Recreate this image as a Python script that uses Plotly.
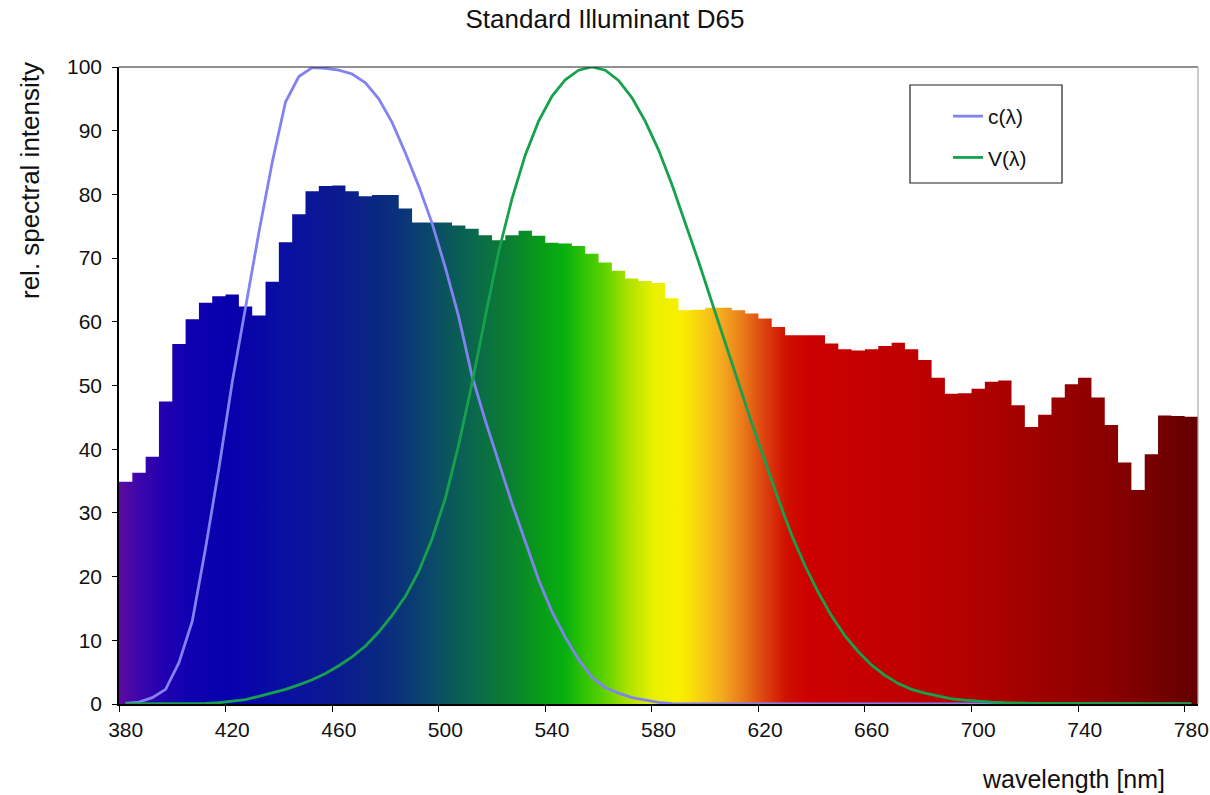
import plotly.graph_objects as go

# ---------------- data ----------------
wavelength = list(range(380, 785, 5))  # 81 categories, 5 nm bins

d65 = [34.9, 36.3, 38.8, 47.5, 56.5, 60.4, 63.0, 64.0, 64.3, 62.4,
       61.0, 66.3, 72.5, 76.9, 80.5, 81.3, 81.4, 80.5, 79.7, 79.9,
       79.9, 77.8, 75.6, 75.6, 75.6, 75.1, 74.6, 73.6, 72.8, 73.6,
       74.3, 73.5, 72.4, 72.3, 71.9, 70.7, 69.3, 68.0, 66.8, 66.4,
       66.1, 63.7, 61.8, 61.9, 62.2, 62.2, 61.8, 61.3, 60.5, 59.2,
       57.9, 57.9, 57.9, 56.6, 55.7, 55.5, 55.7, 56.2, 56.7, 55.7,
       54.0, 51.2, 48.7, 48.8, 49.5, 50.6, 50.8, 46.9, 43.5, 45.4,
       48.1, 50.2, 51.2, 48.1, 43.8, 37.9, 33.6, 39.2, 45.3, 45.2, 45.1]

c_lambda = [0.1, 0.3, 1.0, 2.3, 6.5, 13.0, 24.5, 37.0, 50.5, 62.5,
            74.0, 85.0, 94.5, 98.5, 99.9, 99.8, 99.5, 98.9, 97.5, 95.0,
            91.3, 86.5, 81.3, 75.5, 68.5, 60.8, 51.5, 44.5, 38.0, 31.5,
            25.5, 19.5, 14.5, 10.5, 7.0, 4.2, 2.6, 1.7, 1.0, 0.6,
            0.25, 0.05, 0, 0, 0, 0, 0, 0, 0, 0,
            0, 0, 0, 0, 0, 0, 0, 0, 0, 0,
            0, 0, 0, 0, 0, 0, 0, 0, 0, 0,
            0, 0, 0, 0, 0, 0, 0, 0, 0, 0, 0]

v_lambda = [0.0, 0.0, 0.0, 0.0, 0.0, 0.1, 0.1, 0.2, 0.4, 0.7,
            1.2, 1.7, 2.3, 3.0, 3.8, 4.8, 6.0, 7.4, 9.1, 11.3,
            13.9, 16.9, 20.8, 25.9, 32.3, 40.7, 50.3, 60.8, 71.0, 79.3,
            86.2, 91.5, 95.4, 98.0, 99.5, 100.0, 99.5, 97.9, 95.2, 91.5,
            87.0, 81.6, 75.7, 69.5, 63.1, 56.7, 50.3, 44.1, 38.1, 32.1,
            26.5, 21.7, 17.5, 13.8, 10.7, 8.2, 6.1, 4.5, 3.2, 2.3,
            1.7, 1.2, 0.8, 0.6, 0.4, 0.3, 0.2, 0.1, 0.1, 0.1,
            0.1, 0.0, 0.0, 0.0, 0.0, 0.0, 0.0, 0.0, 0.0, 0.0, 0.0]

tick_labels = [380, 420, 460, 500, 540, 580, 620, 660, 700, 740, 780]
y_ticks = list(range(0, 101, 10))

# spectral colour stops (wavelength, colour) used for the bar gradient
spec_nm = [377.5, 385, 395, 405, 420, 440, 460, 475, 485, 495, 505, 515, 525,
           535, 545, 552, 560, 568, 578, 588, 596, 604, 612, 620, 628, 636,
           660, 690, 720, 750, 782.5]
spec_col = ["#5c0c9c", "#3c06ac", "#2000b0", "#0e00b0", "#0800ac", "#0a10a0",
            "#0a1a90", "#0a2882", "#0a3678", "#0a4a68", "#0a5e56", "#0a7042",
            "#0a8030", "#089a1a", "#08b010", "#30c404", "#60d200", "#a8e000",
            "#e8f000", "#f8f000", "#f8d010", "#f4a820", "#e87818", "#dc4010",
            "#d01000", "#cc0000", "#c40000", "#b80000", "#a00000", "#880000",
            "#640000"]

# ---------------- figure ----------------
half = 2.5
x_lo = wavelength[0] - half
x_hi = wavelength[-1] + half
colorscale = [[(w - x_lo) / (x_hi - x_lo), c] for w, c in zip(spec_nm, spec_col)]

step_x = [w - half for w in wavelength] + [x_hi]
step_y = d65 + [d65[-1]]

FONT = "Liberation Sans, Arial, sans-serif"

fig = go.Figure()
fig.add_trace(go.Scatter(
    x=step_x, y=step_y, mode="lines",
    line=dict(shape="hv", width=0, color="rgba(0,0,0,0)"),
    fill="tozeroy",
    fillgradient=dict(type="horizontal", colorscale=colorscale,
                      start=x_lo, stop=x_hi),
    name="D65", showlegend=False, hoverinfo="skip"))

fig.add_trace(go.Scatter(
    x=wavelength, y=c_lambda, mode="lines", name="c(λ)",
    line=dict(color="#8282f2", width=2.8), legendgroup="c", cliponaxis=False))
fig.add_trace(go.Scatter(
    x=wavelength, y=v_lambda, mode="lines", name="V(λ)",
    line=dict(color="#16a24c", width=2.8), legendgroup="v", cliponaxis=False))

W, H = 1210, 795
ml, mr, mt, mb = 119, 12, 67, 91
pw, ph = W - ml - mr, H - mt - mb


def px(xp):
    return (xp - ml) / pw


def py(yp):
    return (H - mb - yp) / ph


fig.update_layout(
    width=W, height=H,
    margin=dict(l=ml, r=mr, t=mt, b=mb, autoexpand=False),
    paper_bgcolor="white", plot_bgcolor="white",
    font=dict(family=FONT, size=21, color="#111111"),
    title=dict(text="Standard Illuminant D65", x=0.5, xref="container",
               xanchor="center", y=1 - 19 / H, yanchor="middle",
               font=dict(size=26, family=FONT, color="#111111")),
    showlegend=True,
    legend=dict(x=px(948), y=py(96), xanchor="left", yanchor="top",
                bgcolor="rgba(0,0,0,0)", borderwidth=0,
                font=dict(size=21, family=FONT, color="#111111"),
                tracegroupgap=11, itemwidth=30),
    xaxis=dict(range=[x_lo, x_hi], tickmode="array", tickvals=tick_labels,
               ticktext=[str(t) for t in tick_labels], ticks="",
               showline=True, linecolor="black", linewidth=1.5,
               showgrid=False, zeroline=False, ticklabelstandoff=6,
               tickfont=dict(size=21), automargin=False,
               minor=dict(tickmode="array",
                          tickvals=[t - half for t in tick_labels],
                          ticks="outside", ticklen=6, tickcolor="black",
                          tickwidth=1.2, showgrid=False)),
    yaxis=dict(range=[0, 100], tickmode="array", tickvals=y_ticks,
               ticks="outside", ticklen=5, tickcolor="black", tickwidth=1.2,
               showline=True, linecolor="black", linewidth=1.5,
               showgrid=False, zeroline=False, ticklabelstandoff=6,
               tickfont=dict(size=21), automargin=False),
)

# plot-area border (top dark, right light grey)
fig.add_shape(type="line", xref="paper", yref="paper", x0=0, x1=1, y0=1, y1=1,
              line=dict(color="#222222", width=1.2))
fig.add_shape(type="line", xref="paper", yref="paper", x0=1, x1=1, y0=0, y1=1,
              line=dict(color="#a8a8a8", width=1.2))
# legend frame
fig.add_shape(type="rect", xref="paper", yref="paper",
              x0=px(910), x1=px(1062), y0=py(183), y1=py(85),
              line=dict(color="#222222", width=1.2), fillcolor="rgba(0,0,0,0)")

fig.add_annotation(text="rel. spectral intensity", textangle=-90,
                   xref="paper", yref="paper", x=px(30), y=py(181),
                   xanchor="center", yanchor="middle", showarrow=False,
                   font=dict(size=26, family=FONT, color="#111111"))
fig.add_annotation(text="wavelength [nm]", xref="paper", yref="paper",
                   x=px(1073), y=py(779), xanchor="center", yanchor="middle",
                   showarrow=False,
                   font=dict(size=25, family=FONT, color="#111111"))

fig.write_html("out.html", config={"displayModeBar": False},
               post_script="document.body.style.margin='0px';"
                           "document.body.style.overflow='hidden';")
